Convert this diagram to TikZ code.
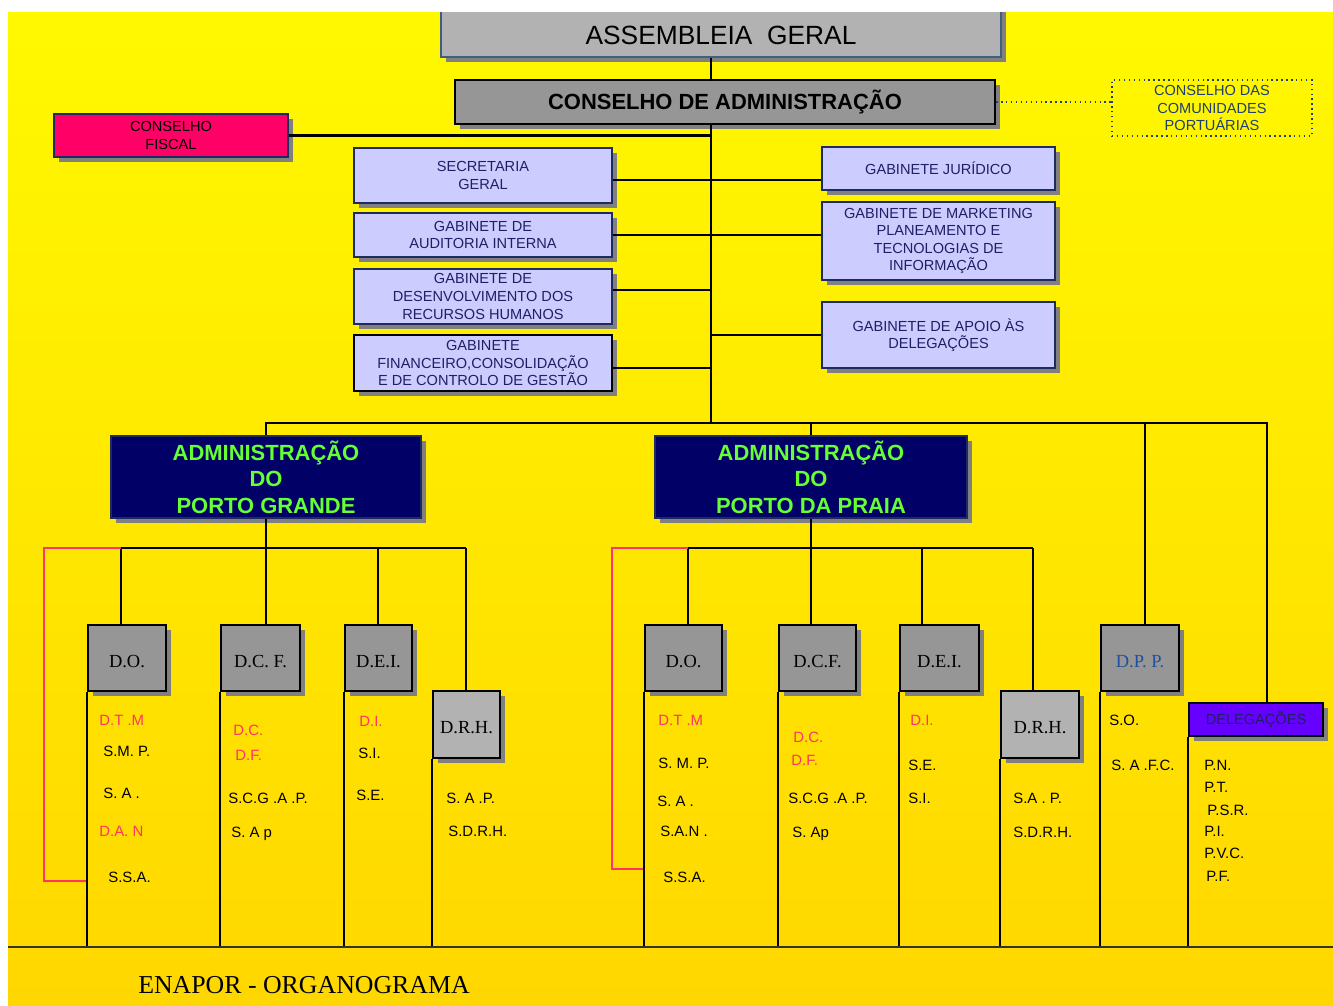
\documentclass[tikz,border=0pt]{standalone}
\usepackage{fontspec}
\setmainfont{Liberation Serif}
\setsansfont{Liberation Sans}
\usetikzlibrary{shadows,calc}

\definecolor{bgtop}{HTML}{FFFF00}
\definecolor{bgbot}{HTML}{FFCC00}
\definecolor{grayA}{HTML}{B2B2B2}
\definecolor{grayB}{HTML}{969696}
\definecolor{lav}{HTML}{CCCCFF}
\definecolor{gabline}{HTML}{1F2A5F}
\definecolor{navytext}{HTML}{1F1F66}
\definecolor{navybox}{HTML}{000066}
\definecolor{fiscalred}{HTML}{FF0066}
\definecolor{violetbox}{HTML}{6600FF}
\definecolor{redtxt}{HTML}{FF3366}
\definecolor{greentxt}{HTML}{66FF33}
\definecolor{shadowgray}{HTML}{808080}
\definecolor{dppblue}{HTML}{2050A0}
\definecolor{ccpblue}{HTML}{1F3F6F}
\definecolor{agline}{HTML}{3F5F7F}

\newcommand{\pxu}{0.02cm}
\newcommand{\agfont}{\sffamily\fontsize{15}{18}\selectfont}
\newcommand{\cafont}{\sffamily\bfseries\fontsize{12.5}{15}\selectfont}
\newcommand{\gabfont}{\sffamily\fontsize{8.3}{10}\selectfont}
\newcommand{\admfont}{\sffamily\bfseries\fontsize{12.5}{15}\selectfont}
\newcommand{\dirfont}{\rmfamily\fontsize{10.5}{12}\selectfont}
\newcommand{\lblfont}{\sffamily\fontsize{8.5}{10}\selectfont}
\newcommand{\orgtitlefont}{\rmfamily\fontsize{14.7}{17}\selectfont}

\tikzset{
	box/.style 2 args={draw, line width=1pt, inner sep=0pt, align=center,
		minimum width=#1*\pxu, minimum height=#2*\pxu,
		drop shadow={shadow xshift=2.6pt, shadow yshift=-2.6pt, opacity=1, fill=shadowgray}},
	gab/.style={fill=lav, draw=gabline, text=navytext, font=\gabfont},
	adm/.style={fill=navybox, draw=gabline, text=greentxt, font=\admfont},
	dir/.style={fill=grayB, draw=black, font=\dirfont, text height=10.5pt, text depth=0pt},
	lbl/.style={anchor=west, inner sep=0pt, text height=6pt, text depth=0pt, font=\lblfont},
	redlbl/.style={lbl, text=redtxt},
	link/.style={line width=1.15pt},
	redlink/.style={line width=1pt, draw=redtxt}
}

\begin{document}
\begin{tikzpicture}[x=0.02cm, y=-0.02cm]
	\useasboundingbox (0,0) rectangle (1333,1005);
	\begin{scope}
		\clip (8,12) rectangle (1333,1005);
		% Background
		\shade[top color=bgtop, bottom color=bgbot] (8,-175) rectangle (1333,1325);
		
		% Top boxes
		\node[box={560}{52}, fill=grayA, draw=agline, font=\agfont, text height=15pt, text depth=0pt] (ag) at (721,31) {ASSEMBLEIA\ \ GERAL};
		\node[box={540}{44}, fill=grayB, draw=black, line width=1.4pt, font=\cafont] (ca) at (725,102) {CONSELHO DE ADMINISTRAÇÃO};
		\node[box={234}{43}, fill=fiscalred, draw=gabline, font=\gabfont] (cf) at (171,135.5) {CONSELHO\\FISCAL};
		\node[draw=ccpblue, dotted, line width=0.8pt, inner sep=0pt, align=center, text=ccpblue, font=\gabfont,
			minimum width=200*\pxu, minimum height=56*\pxu] (ccp) at (1212,108) {CONSELHO DAS\\COMUNIDADES\\PORTUÁRIAS};
		
		% Gabinetes
		\node[box={258}{55}, gab] (sg) at (483,175.5) {SECRETARIA\\GERAL};
		\node[box={258}{44}, gab] (gai) at (483,235) {GABINETE DE\\AUDITORIA INTERNA};
		\node[box={258}{55}, gab] (gdrh) at (483,296.5) {GABINETE DE\\DESENVOLVIMENTO DOS\\RECURSOS HUMANOS};
		\node[box={258}{56}, gab, draw=black] (gfin) at (483,363) {GABINETE\\FINANCEIRO,CONSOLIDAÇÃO\\E DE CONTROLO DE GESTÃO};
		\node[box={233}{43}, gab] (gj) at (938.5,168.5) {GABINETE JURÍDICO};
		\node[box={233}{78}, gab] (gmkt) at (938.5,241) {GABINETE DE MARKETING\\PLANEAMENTO E\\TECNOLOGIAS DE\\INFORMAÇÃO};
		\node[box={233}{66}, gab] (gad) at (938.5,335) {GABINETE DE APOIO ÀS\\DELEGAÇÕES};
		
		% Administracoes
		\node[box={310}{82}, adm] (apg) at (266,477) {ADMINISTRAÇÃO\\DO\\PORTO GRANDE};
		\node[box={312}{82}, adm] (app) at (811,477) {ADMINISTRAÇÃO\\DO\\PORTO DA PRAIA};
		
		% Direccoes
		\node[box={78}{66}, dir] (pgdo) at (127,658) {D.O.};
		\node[box={79}{66}, dir] (pgdcf) at (260.5,658) {D.C. F.};
		\node[box={67}{66}, dir] (pgdei) at (378.5,658) {D.E.I.};
		\node[box={67}{67}, dir, fill=grayA] (pgdrh) at (466.5,724.5) {D.R.H.};
		\node[box={77}{66}, dir] (ppdo) at (683.5,658) {D.O.};
		\node[box={77}{66}, dir] (ppdcf) at (817.5,658) {D.C.F.};
		\node[box={79}{66}, dir] (ppdei) at (939.5,658) {D.E.I.};
		\node[box={78}{67}, dir, fill=grayA] (ppdrh) at (1040,724.5) {D.R.H.};
		\node[box={78}{66}, dir, text=dppblue] (dpp) at (1140,658) {D.P. P.};
		\node[box={134}{33}, fill=violetbox, draw=black, font=\gabfont, text=navytext] (deleg) at (1256,719.5) {DELEGAÇÕES};
		
		% Trunk
		\coordinate (tk) at (711,423);
		\draw[link] (tk |- ag.south) -- (tk |- ca.north);
		\draw[link] (tk |- ca.south) -- (tk);
		\draw[link] (cf.east) -- (cf.east -| tk);
		\draw[dotted, line width=0.8pt, draw=ccpblue] (ca.east) -- (ca.east -| ccp.west);
		\foreach \n/\s in {sg/-4.5,gai/0,gdrh/6.5,gfin/-5}
		\draw[link] ([yshift=\s*\pxu]\n.east) -- ([yshift=\s*\pxu]\n.east -| tk);
		\foreach \n/\s in {gj/-11.5,gmkt/6,gad/0}
		\draw[link] ([yshift=\s*\pxu]\n.west) -- ([yshift=\s*\pxu]\n.west -| tk);
		
		% Bus
		\coordinate (dl) at (1267,423);
		\coordinate (dp) at (1145,423);
		\draw[link] (apg.north) |- (dl) -- (dl |- deleg.north);
		\draw[link] (app.north) -- (app.north |- tk);
		\draw[link] (dp) -- (dp |- dpp.north);
		
		% Branches
		\foreach \n/\x in {pgdo/121,pgdcf/266,pgdei/378,pgdrh/466,ppdo/688,ppdcf/811,ppdei/922,ppdrh/1033}{
			\coordinate (j\n) at (\x,548);
			\draw[link] (j\n) -- (j\n |- \n.north);
		}
		\draw[link] (apg.south) -- (apg.south |- jpgdo);
		\draw[link] (jpgdo) -- (jpgdrh);
		\draw[link] (app.south) -- (app.south |- jppdo);
		\draw[link] (jppdo) -- (jppdrh);
		
		% Red links
		\coordinate (rpg) at (44,881);
		\coordinate (rpp) at (612,869);
		\draw[redlink] (jpgdo) -| (rpg) -- (rpg -| pgdo.west);
		\draw[redlink] (jppdo) -| (rpp) -- (rpp -| ppdo.west);
		
		% Columns
		\coordinate (base) at (8,947);
		\coordinate (baseR) at (1333,947);
		\foreach \n in {pgdo,pgdcf,pgdei,pgdrh,ppdo,ppdcf,ppdei,ppdrh,dpp,deleg}
		\draw[link] (\n.south west) -- (\n.south west |- base);
		\draw[line width=1.3pt, draw=black!80] (base) -- (baseR);
		
		% Services
		\node[redlbl] (l1) at (99,720) {D.T .M};
		\node[lbl] (l2) at (103,751) {S.M. P.};
		\node[lbl] (l3) at (103,793) {S. A .};
		\node[redlbl] (l4) at (99,831) {D.A. N};
		\node[lbl] (l5) at (108,877) {S.S.A.};
		\node[redlbl] (l6) at (233,730) {D.C.};
		\node[redlbl] (l7) at (235,755) {D.F.};
		\node[lbl] (l8) at (228,798) {S.C.G .A .P.};
		\node[lbl] (l9) at (231,832) {S. A p};
		\node[redlbl] (l10) at (359,721) {D.I.};
		\node[lbl] (l11) at (358,753) {S.I.};
		\node[lbl] (l12) at (356,795) {S.E.};
		\node[lbl] (l13) at (446,798) {S. A .P.};
		\node[lbl] (l14) at (448,831) {S.D.R.H.};
		
		\node[redlbl] (m1) at (658,720) {D.T .M};
		\node[lbl] (m2) at (658,763) {S. M. P.};
		\node[lbl] (m3) at (657,801) {S. A .};
		\node[lbl] (m4) at (660,831) {S.A.N .};
		\node[lbl] (m5) at (663,877) {S.S.A.};
		\node[redlbl] (m6) at (793,737) {D.C.};
		\node[redlbl] (m7) at (791,760) {D.F.};
		\node[lbl] (m8) at (788,798) {S.C.G .A .P.};
		\node[lbl] (m9) at (792,832) {S. Ap};
		\node[redlbl] (m10) at (910,720) {D.I.};
		\node[lbl] (m11) at (908,765) {S.E.};
		\node[lbl] (m12) at (908,798) {S.I.};
		\node[lbl] (m13) at (1013,798) {S.A . P.};
		\node[lbl] (m14) at (1013,832) {S.D.R.H.};
		\node[lbl] (m15) at (1109,720) {S.O.};
		\node[lbl] (m16) at (1111,765) {S. A .F.C.};
		
		\node[lbl] (p1) at (1204,765) {P.N.};
		\node[lbl] (p2) at (1204,787) {P.T.};
		\node[lbl] (p3) at (1207,810) {P.S.R.};
		\node[lbl] (p4) at (1204,831) {P.I.};
		\node[lbl] (p5) at (1204,853) {P.V.C.};
		\node[lbl] (p6) at (1206,876) {P.F.};
		
		% Title
		\node[font=\orgtitlefont, inner sep=0pt] (title) at (304,985) {ENAPOR - ORGANOGRAMA};
	\end{scope}
\end{tikzpicture}
\end{document}
